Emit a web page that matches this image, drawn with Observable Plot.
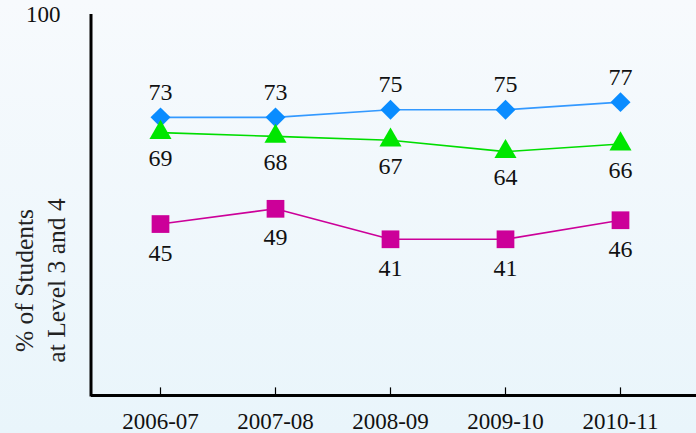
<!DOCTYPE html>
<html><head><meta charset="utf-8">
<script src="https://cdn.jsdelivr.net/npm/d3@7"></script>
<script src="https://cdn.jsdelivr.net/npm/@observablehq/plot@0.6"></script>
<style>
html,body{margin:0;padding:0;background:linear-gradient(#f7fafd,#e9f5fb);}
body{width:696px;height:433px;overflow:hidden}
</style></head><body><div id="chart"></div>
<script>
const years = ["2006-07","2007-08","2008-09","2009-10","2010-11"];
const seriesBlue = [73,73,75,75,77];
const seriesGreen = [69,68,67,64,66];
const seriesMagenta = [45,49,41,41,46];
const yDomain = [0,100];
const yTicks = [100];
const yLabelLines = ["% of Students", "at Level 3 and 4"];

const rows = (vals) => years.map((year,i)=>({year, value: vals[i]}));
const blue = rows(seriesBlue), green = rows(seriesGreen), magenta = rows(seriesMagenta);

const font = "'Liberation Serif', 'Times New Roman', serif";
const yAxisLine = (index, scales, values, dims) => {
  return d3.create("svg:line")
    .attr("x1", dims.marginLeft).attr("x2", dims.marginLeft)
    .attr("y1", scales.y(yDomain[1])).attr("y2", scales.y(yDomain[0]) + 1.5)
    .attr("stroke", "#000").attr("stroke-width", 3).node();
};
const yTitle = (index, scales, values, dims) => {
  const cy = (scales.y(yDomain[0]) + scales.y(yDomain[1])) / 2 + 76;
  const t = d3.create("svg:text")
    .attr("transform", `translate(${dims.marginLeft - 58},${cy}) rotate(-90)`)
    .attr("text-anchor", "middle")
    .attr("font-size", 25.5)
    .attr("fill", "#222");
  yLabelLines.forEach((s, i) => t.append("tspan").attr("x", 0).attr("y", i * 32).text(s));
  return t.node();
};

const label = (data, dy) => Plot.text(data, {x:"year", y:"value", text: d => String(d.value), dy, fontSize: 24, fill: "#111"});

const plot = Plot.plot({
  width: 696, height: 433,
  marginLeft: 91, marginRight: 0, marginTop: 14, marginBottom: 38,
  style: {background: "transparent", fontFamily: font, color: "#111", overflow: "visible"},
  x: {type: "point", domain: years, padding: 0.6, insetRight: 7, label: null},
  y: {domain: yDomain, label: null},
  marks: [
    Plot.axisY(yTicks, {tickSize: 0, tickPadding: 31, fontSize: 23, label: null}),
    Plot.axisX({tickSize: 0, tickPadding: 17, fontSize: 23, label: null}),
    Plot.ruleX(years, {x: d => d, y1: 0, y2: 2, stroke: "#000", strokeWidth: 1.2}),
    Plot.ruleY([0], {stroke: "#000", strokeWidth: 3}),
    yAxisLine,
    yTitle,
    Plot.line(magenta, {x:"year", y:"value", stroke:"#cc0099", strokeWidth:1.6}),
    Plot.line(blue, {x:"year", y:"value", stroke:"#3399ff", strokeWidth:1.6}),
    Plot.line(green, {x:"year", y:"value", stroke:"#00dd00", strokeWidth:1.6}),
    Plot.dot(magenta, {x:"year", y:"value", symbol:"square", r:10, fill:"#cc0099"}),
    Plot.dot(blue, {x:"year", y:"value", symbol:"diamond2", r:9, fill:"#0a8cff"}),
    Plot.dot(green, {x:"year", y:"value", symbol:"triangle", r:8.2, fill:"#00e600"}),
    label(blue, -25),
    label(green, 26),
    label(magenta, 29)
  ]
});
document.getElementById("chart").append(plot);
</script></body></html>
